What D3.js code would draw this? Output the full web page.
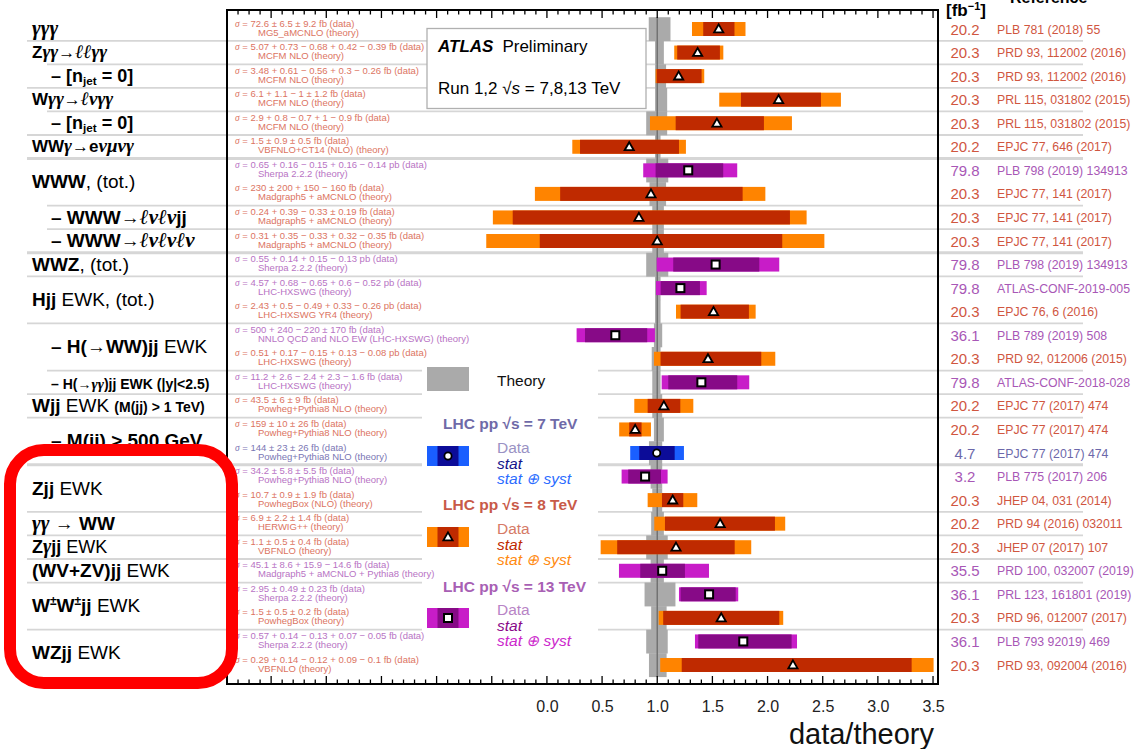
<!DOCTYPE html>
<html><head><meta charset="utf-8">
<script src="https://cdn.jsdelivr.net/npm/d3@7"></script>
<style>
html,body{margin:0;padding:0;background:#fff;}
svg{display:block;font-family:"Liberation Sans",Arial,sans-serif;}
</style></head>
<body>
<svg id="chart" width="1140" height="749"></svg>
<script>
// ---------------- DATA ----------------
const energy = [8,8,8,8,8,8,13,8,8,8,13,13,8,13,8,13,8,8,7,13,8,8,8,13,13,8,13,8];
const central = [1.557,1.366,1.194,2.10,1.541,0.746,1.281,0.943,0.834,1.00,1.529,1.21,1.51,0.62,1.46,1.40,1.06,0.80,0.995,0.89,1.14,1.57,1.17,1.045,1.47,1.58,1.78,2.23];
const statLow  = [1.417,1.181,0.995,1.759,1.167,0.30,0.985,0.12,-0.31,-0.065,1.145,1.031,1.212,0.345,1.03,1.10,0.913,0.746,0.837,0.737,1.043,1.07,0.637,0.846,1.212,1.054,1.372,1.222];
const statHigh = [1.70,1.568,1.402,2.484,1.967,1.197,1.598,1.774,2.203,2.133,1.925,1.387,1.831,0.909,1.943,1.725,1.209,0.858,1.158,1.034,1.236,2.067,1.702,1.251,1.711,2.106,2.218,3.306];
const totLow   = [1.315,1.154,0.985,1.562,0.934,0.23,0.873,-0.109,-0.49,-0.55,0.995,0.988,1.17,0.269,0.97,1.04,0.792,0.655,0.755,0.677,0.913,0.973,0.487,0.653,1.197,1.013,1.342,1.027];
const totHigh  = [1.80,1.599,1.426,2.665,2.221,1.26,1.725,1.98,2.354,2.515,2.106,1.448,1.892,0.979,2.07,1.834,1.327,0.943,1.242,1.094,1.363,2.16,1.852,1.469,1.734,2.142,2.267,3.505];
const theoryLow  = [0.923,0.98,0.98,0.98,0.90,0.98,0.90,0.93,0.955,0.955,0.90,0.98,0.98,0.97,0.95,0.955,0.955,0.97,0.925,0.94,0.955,0.945,0.90,0.94,0.885,0.945,0.90,0.925];
const theoryHigh = [1.12,1.06,1.08,1.09,1.09,1.03,1.10,1.08,1.06,1.06,1.10,1.03,1.03,1.045,1.03,1.03,1.045,1.06,1.045,1.045,1.045,1.06,1.095,1.06,1.165,1.085,1.095,1.085];
const lumi = ["20.2","20.3","20.3","20.3","20.3","20.2","79.8","20.3","20.3","20.3","79.8","79.8","20.3","36.1","20.3","79.8","20.2","20.2","4.7","3.2","20.3","20.2","20.3","35.5","36.1","20.3","36.1","20.3"];
const refs = ["PLB 781 (2018) 55","PRD 93, 112002 (2016)","PRD 93, 112002 (2016)","PRL 115, 031802 (2015)","PRL 115, 031802 (2015)","EPJC 77, 646 (2017)","PLB 798 (2019) 134913","EPJC 77, 141 (2017)","EPJC 77, 141 (2017)","EPJC 77, 141 (2017)","PLB 798 (2019) 134913","ATLAS-CONF-2019-005","EPJC 76, 6 (2016)","PLB 789 (2019) 508","PRD 92, 012006 (2015)","ATLAS-CONF-2018-028","EPJC 77 (2017) 474","EPJC 77 (2017) 474","EPJC 77 (2017) 474","PLB 775 (2017) 206","JHEP 04, 031 (2014)","PRD 94 (2016) 032011","JHEP 07 (2017) 107","PRD 100, 032007 (2019)","PRL 123, 161801 (2019)","PRD 96, 012007 (2017)","PLB 793 92019) 469","PRD 93, 092004 (2016)"];
const sigmaText = [" = 72.6 ± 6.5 ± 9.2 fb (data)"," = 5.07 + 0.73 − 0.68 + 0.42 − 0.39 fb (data)"," = 3.48 + 0.61 − 0.56 + 0.3 − 0.26 fb (data)"," = 6.1 + 1.1 − 1 ± 1.2 fb (data)"," = 2.9 + 0.8 − 0.7 + 1 − 0.9 fb (data)"," = 1.5 ± 0.9 ± 0.5 fb (data)"," = 0.65 + 0.16 − 0.15 + 0.16 − 0.14 pb (data)"," = 230 ± 200 + 150 − 160 fb (data)"," = 0.24 + 0.39 − 0.33 ± 0.19 fb (data)"," = 0.31 + 0.35 − 0.33 + 0.32 − 0.35 fb (data)"," = 0.55 + 0.14 + 0.15 − 0.13 pb (data)"," = 4.57 + 0.68 − 0.65 + 0.6 − 0.52 pb (data)"," = 2.43 + 0.5 − 0.49 + 0.33 − 0.26 pb (data)"," = 500 + 240 − 220 ± 170 fb (data)"," = 0.51 + 0.17 − 0.15 + 0.13 − 0.08 pb (data)"," = 11.2 + 2.6 − 2.4 + 2.3 − 1.6 fb (data)"," = 43.5 ± 6 ± 9 fb (data)"," = 159 ± 10 ± 26 fb (data)"," = 144 ± 23 ± 26 fb (data)"," = 34.2 ± 5.8 ± 5.5 fb (data)"," = 10.7 ± 0.9 ± 1.9 fb (data)"," = 6.9 ± 2.2 ± 1.4 fb (data)"," = 1.1 ± 0.5 ± 0.4 fb (data)"," = 45.1 ± 8.6 + 15.9 − 14.6 fb (data)"," = 2.95 ± 0.49 ± 0.23 fb (data)"," = 1.5 ± 0.5 ± 0.2 fb (data)"," = 0.57 + 0.14 − 0.13 + 0.07 − 0.05 fb (data)"," = 0.29 + 0.14 − 0.12 + 0.09 − 0.1 fb (data)"];
const theoryText = ["MG5_aMCNLO (theory)","MCFM NLO (theory)","MCFM NLO (theory)","MCFM NLO (theory)","MCFM NLO (theory)","VBFNLO+CT14 (NLO) (theory)","Sherpa 2.2.2 (theory)","Madgraph5 + aMCNLO (theory)","Madgraph5 + aMCNLO (theory)","Madgraph5 + aMCNLO (theory)","Sherpa 2.2.2 (theory)","LHC-HXSWG (theory)","LHC-HXSWG YR4 (theory)","NNLO QCD and NLO EW (LHC-HXSWG) (theory)","LHC-HXSWG (theory)","LHC-HXSWG (theory)","Powheg+Pythia8 NLO (theory)","Powheg+Pythia8 NLO (theory)","Powheg+Pythia8 NLO (theory)","Powheg+Pythia8 NLO (theory)","PowhegBox (NLO) (theory)","HERWIG++ (theory)","VBFNLO (theory)","Madgraph5 + aMCNLO + Pythia8 (theory)","Sherpa 2.2.2 (theory)","PowhegBox (theory)","Sherpa 2.2.2 (theory)","VBFNLO (theory)"];
// process labels: row position (may be between two measurement rows), sub-item flag, text pieces
const labelRow = [0,1,2,3,4,5,6.5,8,9,10,11.5,13.5,15,16,17.5,19.5,21,22,23,24.5,26.5];
const labelSub = [0,0,1,0,1,0,0,1,1,0,0,1,1,0,1,0,0,0,0,0,0];
const labelParts = [
  [["γγγ","m"]],
  [["Z","b"],["γγ","m"],["→","b"],["ℓℓγγ","m"]],
  [["– [n","b"],["jet","s"],[" = 0]","b"]],
  [["W","b"],["γγ","m"],["→","b"],["ℓνγγ","m"]],
  [["– [n","b"],["jet","s"],[" = 0]","b"]],
  [["WW","b"],["γ","m"],["→e","b"],["νμνγ","m"]],
  [["WWW","b"],[", (tot.)","n"]],
  [["– WWW→","b"],["ℓνℓν","m"],["jj","b"]],
  [["– WWW→","b"],["ℓνℓνℓν","m"]],
  [["WWZ","b"],[", (tot.)","n"]],
  [["Hjj","b"],[" EWK, (tot.)","n"]],
  [["– H(→WW)jj","b"],[" EWK","n"]],
  [["– H(→","t"],["γγ","tm"],[")jj EWK (|y|<2.5)","t"]],
  [["Wjj","b"],[" EWK ","n"],["(M(jj) > 1  TeV)","t"]],
  [["– M(jj) > 500 GeV","b"]],
  [["Zjj","b"],[" EWK","n"]],
  [["γγ","m"],[" → ","b"],["WW","b"]],
  [["Z","b"],["γ","m"],["jj","b"],[" EWK","n"]],
  [["(WV+ZV)jj","b"],[" EWK","n"]],
  [["W","b"],["±","p"],["W","b"],["±","p"],["jj","b"],[" EWK","n"]],
  [["WZjj","b"],[" EWK","n"]]
];
// row boundaries with a separator line (line drawn between row k-1 and k)
const sepAfter = [1,2,3,4,5,6,8,9,10,11,13,15,16,17,19,21,22,23,24,26];
const groupSep = [6,10,19];
const majorTicks = [0,0.5,1,1.5,2,2.5,3,3.5];

// ---------------- STYLE ----------------
const colors = {
  7:  {outer:"#1a5fff", inner:"#0c0c98", text:"#6c68aa", small:"#7a76b4"},
  8:  {outer:"#ff8400", inner:"#bf2a00", text:"#d0563f", small:"#dc7462"},
  13: {outer:"#c81cc8", inner:"#870a87", text:"#a857b6", small:"#b873c4"}
};
const labelFontSize = [19,17,18,17,18,17,19,19,19,19,19,19,19,19,19,19,19,18,19,19,19];
const SANS = '"Liberation Sans",Arial,sans-serif';
const SERIF = '"Liberation Serif","DejaVu Serif",serif';

const svg = d3.select("#chart");
const x = d3.scaleLinear().domain([-2.9, 3.545]).range([227, 938]);
const yRow = d3.scaleLinear().domain([0, 27]).range([29, 665]);
const step = yRow(1) - yRow(0);
const rows = d3.range(central.length);

// separator lines
const gSep = svg.append("g");
sepAfter.forEach(k => {
  const yy = (yRow(k - 1) + yRow(k)) / 2;
  const li = labelRow.indexOf(k);
  const indent = li >= 0 && labelSub[li] === 1;
  gSep.append("line")
    .attr("x1", indent ? 47 : 27).attr("x2", 1083)
    .attr("y1", yy).attr("y2", yy)
    .attr("stroke", "#d6d6d6")
    .attr("stroke-width", groupSep.includes(k) ? 3 : 1.8);
});

// ATLAS box
svg.append("rect").attr("x", 427).attr("y", 28.5).attr("width", 219).attr("height", 80)
  .attr("fill", "#fff").attr("stroke", "#b0b0b0").attr("stroke-width", 1.3);
const atl = svg.append("text").attr("x", 438).attr("y", 52).attr("font-size", 17).attr("font-family", SANS);
atl.append("tspan").attr("font-weight", "bold").attr("font-style", "italic").text("ATLAS");
atl.append("tspan").attr("dx", 9).text("Preliminary");
const run = svg.append("text").attr("x", 438).attr("y", 94).attr("font-size", 17).attr("font-family", SANS);
run.append("tspan").text("Run 1,2  √");
run.append("tspan").attr("font-style", "italic").text("s");
run.append("tspan").text(" = 7,8,13 TeV");

// legend background
svg.append("rect").attr("x", 422).attr("y", 345).attr("width", 176).attr("height", 320).attr("fill", "#fff");

// theory band
svg.append("g").selectAll("rect").data(rows).join("rect")
  .attr("x", i => x(theoryLow[i])).attr("width", i => x(theoryHigh[i]) - x(theoryLow[i]))
  .attr("y", i => yRow(i) - step / 2).attr("height", step + 0.3)
  .attr("fill", "#aaaaaa");
svg.append("line").attr("x1", x(1)).attr("x2", x(1)).attr("y1", 17).attr("y2", 677)
  .attr("stroke", "#6e6e6e").attr("stroke-width", 1.4);

// bars
const bh = 14;
const gBars = svg.append("g");
gBars.selectAll("rect.tot").data(rows).join("rect").attr("class", "tot")
  .attr("x", i => x(totLow[i])).attr("width", i => x(totHigh[i]) - x(totLow[i]))
  .attr("y", i => yRow(i) - bh / 2).attr("height", bh)
  .attr("fill", i => colors[energy[i]].outer);
gBars.selectAll("rect.stat").data(rows).join("rect").attr("class", "stat")
  .attr("x", i => x(statLow[i])).attr("width", i => x(statHigh[i]) - x(statLow[i]))
  .attr("y", i => yRow(i) - bh / 2).attr("height", bh)
  .attr("fill", i => colors[energy[i]].inner);

function marker(g, e, cx, cy) {
  if (e === 8) {
    g.append("path").attr("d", `M${cx},${cy - 4.6}L${cx + 4.6},${cy + 3.4}L${cx - 4.6},${cy + 3.4}Z`)
      .attr("fill", "#fff").attr("stroke", "#000").attr("stroke-width", 1.8).attr("stroke-linejoin", "miter");
  } else if (e === 13) {
    g.append("rect").attr("x", cx - 4).attr("y", cy - 4).attr("width", 8).attr("height", 8)
      .attr("fill", "#fff").attr("stroke", "#000").attr("stroke-width", 2);
  } else {
    g.append("circle").attr("cx", cx).attr("cy", cy).attr("r", 3.6)
      .attr("fill", "#fff").attr("stroke", "#000").attr("stroke-width", 1.8);
  }
}
const gMarks = svg.append("g");
rows.forEach(i => marker(gMarks, energy[i], x(central[i]), yRow(i)));

// small sigma / theory text
const gTxt = svg.append("g").attr("font-family", SANS).attr("font-size", 9.5);
rows.forEach(i => {
  const c = colors[energy[i]].small;
  const t = gTxt.append("text").attr("x", 235).attr("y", yRow(i) - 2.5).attr("fill", c);
  t.append("tspan").attr("font-family", SERIF).attr("font-style", "italic").text("σ");
  t.append("tspan").text(sigmaText[i]);
  gTxt.append("text").attr("x", 258).attr("y", yRow(i) + 6.5).attr("fill", c).text(theoryText[i]);
});

// frame + axes
const tickVals = d3.range(-29, 36).map(v => v / 10);
const isMajor = v => Math.abs(v * 2 - Math.round(v * 2)) < 1e-6;
function drawTicks(yy, dir) {
  const g = svg.append("g");
  tickVals.forEach(v => {
    const len = isMajor(v) ? 8 : 4.5;
    g.append("line").attr("x1", x(v)).attr("x2", x(v)).attr("y1", yy).attr("y2", yy + dir * len)
      .attr("stroke", "#000").attr("stroke-width", 1.3);
  });
}
drawTicks(10, 1);
drawTicks(684, -1);
svg.append("rect").attr("x", 227).attr("y", 10).attr("width", 711).attr("height", 674)
  .attr("fill", "none").attr("stroke", "#000").attr("stroke-width", 2);
const axisG = svg.append("g").attr("transform", "translate(0,684)")
  .call(d3.axisBottom(x).tickValues(majorTicks).tickFormat(d3.format(".1f")).tickSize(0).tickPadding(17));
axisG.select(".domain").remove();
axisG.selectAll("text").attr("font-size", 16).attr("font-family", SANS).attr("fill", "#222");
svg.append("text").attr("x", 934).attr("y", 744).attr("text-anchor", "end")
  .attr("font-size", 29).attr("font-family", SANS).attr("fill", "#111").text("data/theory");

// right columns
const gR = svg.append("g").attr("font-family", SANS);
rows.forEach(i => {
  const c = colors[energy[i]].text;
  gR.append("text").attr("x", 965).attr("y", yRow(i) + 5.5).attr("text-anchor", "middle")
    .attr("font-size", 15).attr("fill", c).text(lumi[i]);
  gR.append("text").attr("x", 997).attr("y", yRow(i) + 4.5)
    .attr("font-size", 12.3).attr("fill", c).text(refs[i]);
});
const hdr = svg.append("text").attr("x", 946).attr("y", 16).attr("font-size", 17).attr("font-weight", "bold").attr("font-family", SANS);
hdr.append("tspan").text("[fb");
hdr.append("tspan").attr("dy", -6).attr("font-size", 11).text("−1");
hdr.append("tspan").attr("dy", 6).text("]");
svg.append("text").attr("x", 1010).attr("y", 3).attr("font-size", 16).attr("font-weight", "bold")
  .attr("font-family", SANS).text("Reference");

// process labels
const gL = svg.append("g");
labelParts.forEach((parts, li) => {
  const fs = labelFontSize[li];
  const t = gL.append("text").attr("x", labelSub[li] ? 51 : 32).attr("y", yRow(labelRow[li]) + fs * 0.33)
    .attr("font-size", fs).attr("fill", "#000").attr("font-family", SANS);
  let shift = 0;
  parts.forEach(([txt, st]) => {
    const ts = t.append("tspan").text(txt);
    let dy = -shift; shift = 0;
    if (st === "b") ts.attr("font-weight", "bold");
    if (st === "m") ts.attr("font-family", SERIF).attr("font-style", "italic").attr("font-weight", "bold").attr("font-size", fs + 2);
    if (st === "s") { ts.attr("font-weight", "bold").attr("font-size", fs * 0.65); dy += 3; shift = 3; }
    if (st === "p") { ts.attr("font-weight", "bold").attr("font-size", 12); dy -= 7; shift = -7; }
    if (st === "t") ts.attr("font-weight", "bold").attr("font-size", 14);
    if (st === "tm") ts.attr("font-family", SERIF).attr("font-style", "italic").attr("font-weight", "bold").attr("font-size", 15);
    if (dy) ts.attr("dy", dy);
  });
});

// legend
const gLeg = svg.append("g").attr("font-family", SANS).attr("font-size", 15.5);
gLeg.append("rect").attr("x", 427).attr("y", 367).attr("width", 42).attr("height", 24).attr("fill", "#aaaaaa");
gLeg.append("text").attr("x", 497).attr("y", 386).attr("fill", "#111").text("Theory");
const legE = [
  {e:7,  title:"7",  ty:429, by:446, dataCol:"#9a92c4", statCol:"#14148c", sysCol:"#2b6cff", head:"#6f6aa8"},
  {e:8,  title:"8",  ty:510, by:527, dataCol:"#d67a66", statCol:"#c02a00", sysCol:"#ff8a10", head:"#c85a48"},
  {e:13, title:"13", ty:592, by:608, dataCol:"#b884c6", statCol:"#8a0a8a", sysCol:"#cc28cc", head:"#a860b4"}
];
legE.forEach(d => {
  const t = gLeg.append("text").attr("x", 443).attr("y", d.ty).attr("font-weight", "bold").attr("fill", d.head);
  t.append("tspan").text("LHC pp  √s = " + d.title + " TeV");
  gLeg.append("rect").attr("x", 427).attr("y", d.by).attr("width", 42).attr("height", 20).attr("fill", colors[d.e].outer);
  gLeg.append("rect").attr("x", 437.5).attr("y", d.by).attr("width", 21).attr("height", 20).attr("fill", colors[d.e].inner);
  marker(gLeg, d.e, 448, d.by + 10);
  gLeg.append("text").attr("x", 497).attr("y", d.by + 7).attr("fill", d.dataCol).text("Data");
  gLeg.append("text").attr("x", 497).attr("y", d.by + 23).attr("fill", d.statCol).attr("font-style", "italic").text("stat");
  gLeg.append("text").attr("x", 497).attr("y", d.by + 38).attr("fill", d.sysCol).attr("font-style", "italic").text("stat ⊕ syst");
});

// red highlight box
svg.append("rect").attr("x", 10).attr("y", 450).attr("width", 222).attr("height", 233)
  .attr("rx", 34).attr("ry", 34).attr("fill", "none").attr("stroke", "#ff0000").attr("stroke-width", 12);
</script>
</body></html>
